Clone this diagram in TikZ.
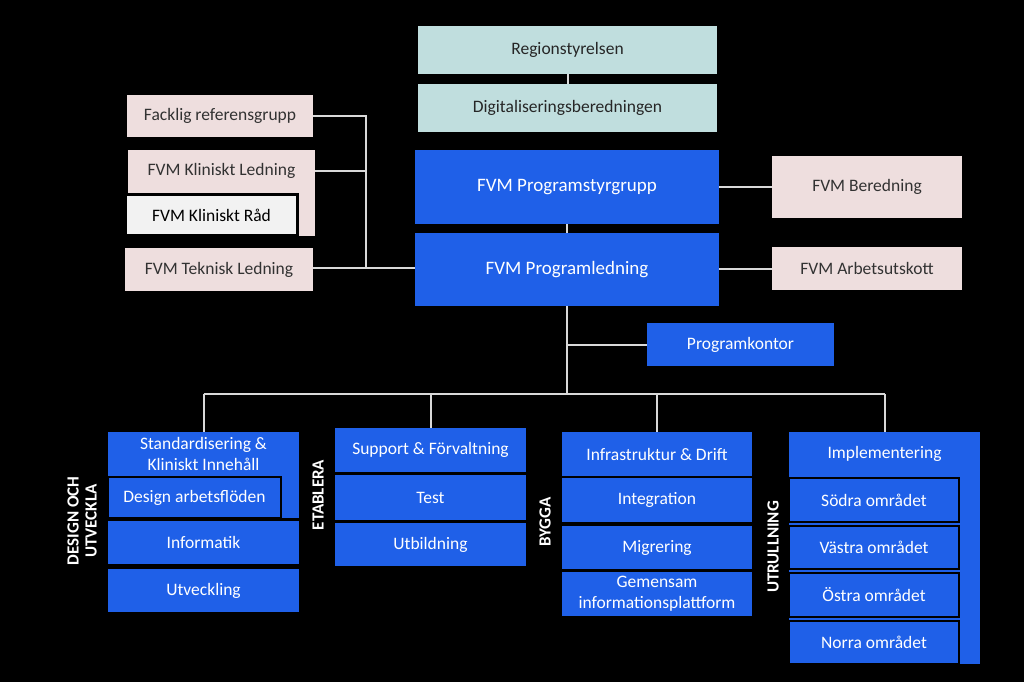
\documentclass[tikz,border=0pt]{standalone}
\usepackage{fontspec}
\setmainfont{Carlito}
\definecolor{fvmblue}{RGB}{31,96,232}
\definecolor{fvmpink}{RGB}{238,222,222}
\definecolor{fvmteal}{RGB}{192,222,222}
\definecolor{fvmgrey}{RGB}{242,242,242}
\definecolor{fvmline}{RGB}{217,217,217}
\definecolor{darktext}{RGB}{50,50,50}
\begin{document}
\begin{tikzpicture}[x=1pt,y=-1pt,
  box/.style={inner sep=0pt, align=center, font=\fontsize{17.5}{21}\selectfont},
  bluebox/.style={box, fill=fvmblue, text=white},
  pinkbox/.style={box, fill=fvmpink, text=darktext},
  tealbox/.style={box, fill=fvmteal, text=black!85},
  subbox/.style={bluebox, draw=black, line width=2pt},
  conn/.style={draw=fvmline, line width=2pt},
  phase/.style={text=white, rotate=90, align=center, inner sep=0pt, font=\fontsize{17}{18}\selectfont\bfseries}
]
\fill[black] (0,0) rectangle (1024,682);
\useasboundingbox (0,0) rectangle (1024,682);

% top
\node[tealbox, minimum width=299, minimum height=48] (reg) at (567.5,50) {Regionstyrelsen};
\node[tealbox, minimum width=299, minimum height=48] (dig) at (567.5,108) {Digitaliseringsberedningen};
\node[bluebox, minimum width=304, minimum height=74, font=\fontsize{19}{22}\selectfont] (psg) at (567,187) {FVM Programstyrgrupp};
\node[bluebox, minimum width=304, minimum height=73, font=\fontsize{19}{22}\selectfont] (pl) at (567,269.5) {FVM Programledning};
\node[pinkbox, minimum width=190, minimum height=62] (ber) at (867,187) {FVM Beredning};
\node[pinkbox, minimum width=190, minimum height=43] (arb) at (867,268.5) {FVM Arbetsutskott};
\node[bluebox, minimum width=187, minimum height=43] (pk) at (740.5,344.5) {Programkontor};

% left
\node[pinkbox, minimum width=186, minimum height=42] (fack) at (220,116) {Facklig referensgrupp};
\node[pinkbox, minimum width=187, minimum height=86] (kled) at (221.5,193) {};
\node[box, text=darktext] (kledt) at (221.5,171) {FVM Kliniskt Ledning};
\node[box, fill=fvmgrey, draw=black, line width=2.5pt, minimum width=172, minimum height=41, text=black] (krad) at (211.5,215) {FVM Kliniskt Råd};
\node[pinkbox, minimum width=188, minimum height=43] (tek) at (219,269.5) {FVM Teknisk Ledning};

% connectors top
\draw[conn] (reg.south) -- (dig.north);
\draw[conn] (psg.south) -- (pl.north);
\draw[conn] (psg.east) -- (ber.west);
\draw[conn] (pl.east |- arb.west) -- (arb.west);
\coordinate (lv1) at (366,116);
\coordinate (lv2) at (366,171);
\coordinate (lv3) at (366,268);
\draw[conn] (fack.east) -- (lv1) -- (lv3);
\draw[conn] (kled.east |- lv2) -- (lv2);
\draw[conn] (tek.east |- lv3) -- (pl.west |- lv3);

% bus
\coordinate (bus) at (567,394);
\coordinate (pkj) at (567,345);
\draw[conn] (pl.south) -- (bus);
\draw[conn] (pkj) -- (pk.west |- pkj);

% column 1
\node[bluebox, minimum width=191, minimum height=86] (std) at (203.5,475) {};
\node[box, text=white] (stdt) at (203.5,454) {Standardisering \&\\Kliniskt Innehåll};
\node[subbox, minimum width=173, minimum height=41] (daf) at (194.5,497.5) {Design arbetsflöden};
\node[bluebox, minimum width=191, minimum height=43] (inf) at (203.5,542.5) {Informatik};
\node[bluebox, minimum width=191, minimum height=43] (utv) at (203.5,590.5) {Utveckling};
\node[phase] (p1) at (82,521) {DESIGN OCH\\UTVECKLA};

% column 2
\node[bluebox, minimum width=191, minimum height=44] (sup) at (430.5,450) {Support \& Förvaltning};
\node[bluebox, minimum width=191, minimum height=45] (test) at (430.5,497.5) {Test};
\node[bluebox, minimum width=191, minimum height=43] (utb) at (430.5,544.5) {Utbildning};
\node[phase] (p2) at (318,495) {ETABLERA};

% column 3
\node[bluebox, minimum width=190, minimum height=44] (infr) at (657,454) {Infrastruktur \& Drift};
\node[bluebox, minimum width=190, minimum height=44] (intg) at (657,500) {Integration};
\node[bluebox, minimum width=190, minimum height=43] (migr) at (657,547.5) {Migrering};
\node[bluebox, minimum width=190, minimum height=44] (gem) at (657,594) {Gemensam\\informationsplattform};
\node[phase] (p3) at (545,522) {BYGGA};

% column 4
\node[bluebox, minimum width=191, minimum height=232] (impl) at (884.5,548) {};
\node[box, text=white] (implt) at (884.5,454) {Implementering};
\node[subbox, minimum width=170, minimum height=44] (sod) at (874,500) {Södra området};
\node[subbox, minimum width=170, minimum height=43] (vas) at (874,547.5) {Västra området};
\node[subbox, minimum width=170, minimum height=44] (ost) at (874,595) {Östra området};
\node[subbox, minimum width=170, minimum height=43] (nor) at (874,642.5) {Norra området};
\node[phase] (p4) at (773,547) {UTRULLNING};

% bus drops
\coordinate (b1) at (203.5,394);
\coordinate (b4) at (884.5,394);
\draw[conn] (b1) -- (b4);
\draw[conn] (b1) -- (std.north);
\draw[conn] (sup.north |- bus) -- (sup.north);
\draw[conn] (infr.north |- bus) -- (infr.north);
\draw[conn] (b4) -- (impl.north);
\end{tikzpicture}
\end{document}
